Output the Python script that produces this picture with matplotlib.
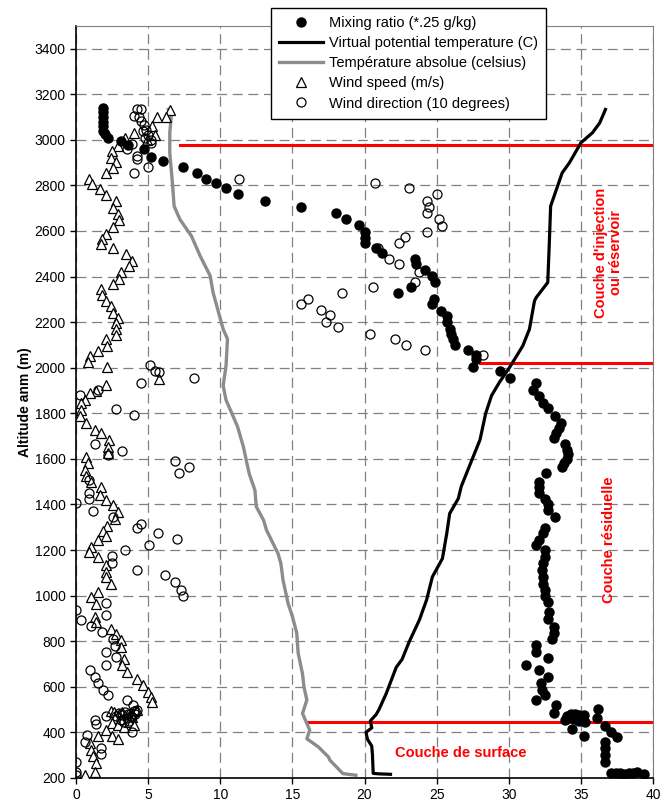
import matplotlib
matplotlib.use("Agg")
import matplotlib.pyplot as plt

plt.rcParams['font.family'] = ['Liberation Sans', 'DejaVu Sans']

# Mixing ratio (*.25 g/kg)
mix_x = [1.9, 1.9, 1.9, 1.9, 1.9, 1.9, 2.0, 2.2, 3.1, 3.6, 4.7, 5.2, 6.0, 7.4, 8.4, 9.0, 9.7,
         10.4, 11.2, 13.1, 15.6, 18.0, 18.7, 19.6, 20.0, 20.0, 20.0, 20.8, 21.2, 23.5, 23.6,
         24.2, 24.7, 24.9, 23.2, 22.3, 24.8, 24.7, 25.3, 25.7, 25.7, 25.9, 26.0, 26.1, 26.3,
         27.2, 27.7, 27.7, 27.5, 29.4, 30.1, 31.9, 31.7, 32.1, 32.4, 32.7, 33.2, 33.6, 33.5,
         33.3, 33.1, 33.9, 34.0, 34.1, 34.0, 33.8, 33.7, 32.6, 32.1, 32.1, 32.1, 32.5, 32.7,
         32.7, 33.2, 32.5, 32.4, 32.1, 31.9, 32.5, 32.5, 32.4, 32.3, 32.4, 32.4, 32.5, 32.5,
         32.7, 32.8, 32.7, 33.1, 33.1, 33.0, 31.9, 31.9, 32.7, 31.2, 32.1, 32.7, 32.2, 32.3,
         32.5, 31.9, 33.3, 33.1, 34.0, 34.3, 34.6, 34.9, 35.2, 34.5, 34.9, 35.3, 33.9,
         34.4, 35.2, 36.2, 36.1, 36.7, 37.1, 37.5, 36.7, 36.7, 36.7, 36.7, 37.1, 37.4, 37.7,
         38.0, 38.3, 38.6, 38.9, 39.4]
mix_y = [3140, 3120, 3100, 3080, 3060, 3040, 3025, 3010, 2994, 2975, 2958, 2924, 2908, 2880,
         2855, 2829, 2812, 2787, 2761, 2731, 2707, 2680, 2651, 2625, 2597, 2571, 2549, 2527,
         2505, 2479, 2457, 2428, 2403, 2377, 2352, 2327, 2301, 2279, 2250, 2228, 2199, 2169,
         2147, 2125, 2099, 2079, 2056, 2038, 2003, 1985, 1953, 1933, 1904, 1877, 1844, 1822,
         1788, 1759, 1734, 1712, 1690, 1664, 1639, 1621, 1598, 1580, 1563, 1536, 1500, 1478,
         1451, 1426, 1404, 1375, 1343, 1295, 1273, 1243, 1221, 1199, 1170, 1141, 1111, 1082,
         1053, 1023, 997, 972, 928, 899, 862, 837, 811, 782, 752, 726, 694, 672, 643, 616,
         584, 562, 540, 518, 484, 470, 480, 482, 478, 475, 460, 450, 445, 455, 413, 384, 502,
         462, 428, 400, 378, 359, 330, 301, 272, 223, 220, 222, 218, 222, 220, 224, 218]

# Virtual potential temperature (C)
vpt_x = [21.8, 21.0, 20.6, 20.55, 20.5, 20.2, 20.1, 20.5, 20.4, 20.8, 21.0, 21.5, 22.2, 22.6,
         23.1, 23.8, 24.3, 24.7, 25.4, 25.7, 25.9, 26.5, 26.7, 27.3, 28.0, 28.4, 28.8, 29.35,
         30.05, 30.97, 31.43, 31.78, 31.9, 32.7, 32.8, 32.9, 33.3, 33.7, 34.2, 35.0, 35.8,
         36.3, 36.7]
vpt_y = [216, 218, 220, 300, 340, 370, 400, 420, 450, 478, 500, 570, 686, 720, 798, 893, 981,
         1082, 1163, 1273, 1360, 1426, 1478, 1573, 1683, 1800, 1877, 1936, 2001, 2096, 2169,
         2293, 2308, 2374, 2534, 2709, 2782, 2855, 2899, 2987, 3031, 3074, 3133]

# Température absolue (celsius)
temp_x = [19.4, 18.5, 17.6, 17.5, 16.8, 16.0, 16.2, 15.7, 16.0, 15.8, 15.7, 15.4, 15.3, 15.0,
          14.7, 14.35, 14.2, 14.0, 13.2, 13.0, 12.5, 12.4, 12.0, 11.6, 11.2, 10.8, 10.4, 10.2,
          10.4, 10.5, 10.2, 9.5, 9.3, 8.6, 8.0, 7.2, 6.8, 6.7, 6.5, 6.5, 6.6, 6.4]
temp_y = [212, 219, 278, 292, 336, 372, 410, 483, 542, 600, 657, 747, 836, 908, 966, 1068,
          1141, 1185, 1288, 1331, 1390, 1463, 1536, 1653, 1741, 1800, 1858, 1921, 2009, 2126,
          2169, 2330, 2403, 2491, 2578, 2651, 2709, 2797, 2943, 3031, 3104, 3133]

# Wind speed (m/s)
ws_x = [6.5, 6.25, 5.6, 5.3, 5.45, 4.9, 4.0, 3.4, 2.9, 2.5, 2.4, 2.8, 2.05, 2.55, 0.9, 1.1,
        1.65, 2.05, 2.8, 2.55, 2.9, 2.95, 2.55, 2.05, 1.8, 1.75, 2.55, 3.45, 3.85, 3.7, 3.15,
        3.0, 2.55, 1.7, 1.8, 2.05, 2.45, 2.55, 2.9, 2.75, 2.8, 2.75, 2.05, 2.15, 1.5, 1.0, 0.8,
        2.15, 5.75, 2.1, 1.4, 0.95, 0.65, 0.35, 0.35, 0.25, 0.7, 1.35, 1.7, 2.3, 2.2, 2.2, 0.7,
        0.85, 0.65, 0.7, 1.05, 1.75, 1.65, 2.05, 2.55, 2.9, 2.7, 2.15, 1.9, 2.05, 1.5, 1.05,
        0.9, 1.5, 2.05, 2.05, 2.1, 2.4, 1.5, 1.05, 1.4, 1.35, 1.4, 2.4, 2.75, 3.15, 3.15, 3.3,
        3.2, 3.55, 4.25, 4.65, 5.0, 5.2, 5.3, 2.4, 2.6, 2.8, 3.0, 3.2, 3.4, 3.6, 3.8, 4.0, 4.2,
        2.7, 3.1, 3.5, 3.9, 2.5, 2.9, 3.3, 3.7, 4.05, 2.1, 2.5, 2.9, 1.5, 1.0, 1.05, 1.2, 1.4,
        1.35, 0.65]
ws_y = [3130, 3100, 3099, 3060, 3019, 3001, 3031, 3009, 2972, 2950, 2918, 2904, 2855, 2877,
        2826, 2804, 2782, 2756, 2731, 2702, 2673, 2647, 2618, 2588, 2564, 2542, 2523, 2498,
        2469, 2447, 2420, 2391, 2369, 2345, 2318, 2293, 2272, 2242, 2220, 2196, 2169, 2143,
        2125, 2096, 2074, 2050, 2026, 2001, 1950, 1924, 1899, 1887, 1858, 1844, 1815, 1788,
        1759, 1727, 1712, 1683, 1654, 1624, 1609, 1580, 1551, 1525, 1500, 1475, 1441, 1419,
        1397, 1365, 1338, 1305, 1283, 1261, 1243, 1214, 1192, 1170, 1133, 1104, 1082, 1053,
        1016, 994, 962, 906, 884, 855, 833, 806, 774, 723, 694, 664, 636, 607, 578, 556, 534,
        495, 488, 478, 482, 490, 472, 480, 486, 492, 498, 462, 458, 450, 468, 440, 432, 425,
        445, 434, 412, 382, 370, 382, 353, 324, 295, 266, 225, 215]

# Wind direction (10 degrees)
wd_x = [4.25, 4.5, 4.05, 4.35, 4.5, 4.7, 4.85, 4.65, 5.0, 4.8, 5.2, 5.2, 3.9, 3.5, 4.2, 4.2,
        5.0, 4.0, 11.3, 20.7, 23.1, 25.0, 24.3, 24.5, 24.3, 25.15, 25.4, 24.3, 22.8, 22.4,
        20.9, 21.7, 22.4, 23.8, 23.5, 20.6, 18.45, 15.6, 16.1, 17.0, 17.3, 17.6, 18.15, 20.4,
        22.1, 22.9, 24.2, 28.2, 5.15, 5.45, 5.75, 8.2, 4.5, 1.5, 0.25, 2.75, 4.0, 6.85, 7.85,
        7.15, 1.3, 2.2, 3.2, 0.9, 0.9, 0.9, 0.0, 1.15, 2.55, 4.5, 4.25, 5.7, 7.0, 5.05, 3.4,
        2.5, 2.5, 4.25, 6.15, 6.85, 7.25, 7.45, 2.05, 0.0, 0.35, 2.05, 1.05, 1.8, 2.55, 2.7,
        2.05, 2.8, 2.05, 1.0, 1.3, 1.5, 1.85, 2.2, 3.55, 3.95, 2.05, 2.8, 3.0, 3.2, 3.4, 3.6,
        3.8, 4.0, 4.2, 3.1, 3.5, 3.9, 3.3, 3.7, 4.1, 1.3, 1.4, 3.85, 0.75, 0.6, 1.75, 1.75,
        0.0, 0.0, 0.0]
wd_y = [3136, 3133, 3104, 3101, 3082, 3063, 3045, 3038, 3023, 3009, 3001, 2987, 2980, 2958,
        2929, 2914, 2880, 2855, 2829, 2812, 2787, 2761, 2731, 2707, 2680, 2654, 2622, 2596,
        2574, 2549, 2527, 2476, 2454, 2420, 2377, 2352, 2327, 2279, 2301, 2254, 2199, 2231,
        2177, 2150, 2128, 2099, 2079, 2056, 2010, 1987, 1980, 1953, 1933, 1904, 1880, 1818,
        1793, 1590, 1566, 1536, 1665, 1617, 1636, 1507, 1451, 1426, 1407, 1372, 1343, 1316,
        1295, 1273, 1247, 1221, 1199, 1173, 1141, 1114, 1089, 1060, 1023, 999, 969, 935, 894,
        914, 865, 840, 811, 777, 752, 730, 697, 672, 643, 617, 587, 562, 543, 518, 470, 472,
        485, 476, 490, 481, 470, 495, 500, 456, 461, 466, 446, 451, 482, 455, 438, 400, 390,
        357, 333, 307, 269, 225, 215]

# Red layer limits
layer_y = [2975, 2020, 445]
layer_xstart = [7.2, 28.0, 16.0]

fig = plt.figure(figsize=(6.61, 8.07), dpi=100)
ax = fig.add_axes([0.115, 0.036, 0.873, 0.932])

for y, x0 in zip(layer_y, layer_xstart):
    ax.plot([x0, 40], [y, y], color='#ff0000', lw=2.2, zorder=2)

h_temp, = ax.plot(temp_x, temp_y, color='#8c8c8c', lw=2.4, zorder=3,
                  label='Température absolue (celsius)')
h_vpt, = ax.plot(vpt_x, vpt_y, color='black', lw=2.3, zorder=3,
                 label='Virtual potential temperature (C)')
h_ws, = ax.plot(ws_x, ws_y, ls='none', marker='^', ms=7, mfc='white', mec='black', mew=0.9,
                zorder=4, label='Wind speed (m/s)')
h_wd, = ax.plot(wd_x, wd_y, ls='none', marker='o', ms=6.5, mfc='none', mec='black', mew=0.9,
                zorder=5, label='Wind direction (10 degrees)')
h_mix, = ax.plot(mix_x, mix_y, ls='none', marker='o', ms=6.5, color='black', zorder=6,
                 label='Mixing ratio (*.25 g/kg)')

ax.text(36.9, 2505, "Couche d'injection\nou réservoir", color='#ff0000', fontsize=10.5,
        fontweight='bold', rotation=90, ha='center', va='center', linespacing=1.1)
ax.text(36.95, 1243, 'Couche résiduelle', color='#ff0000', fontsize=10.5,
        fontweight='bold', rotation=90, ha='center', va='center')
ax.text(26.7, 308, 'Couche de surface', color='#ff0000', fontsize=10.5,
        fontweight='bold', ha='center', va='center')

ax.set_xlim(0, 40)
ax.set_ylim(200, 3500)
ax.set_xticks(range(0, 41, 5))
ax.set_yticks(range(200, 3401, 200))
ax.tick_params(labelsize=10, direction='out', length=4, width=1)
ax.grid(True, color='#808080', ls=(0, (8, 4.5)), lw=0.9)
ax.set_axisbelow(True)
ax.set_ylabel('Altitude anm (m)', fontsize=10, fontweight='bold', labelpad=2)
for s in ['top', 'right']:
    ax.spines[s].set_color('#808080')
for s in ['left', 'bottom']:
    ax.spines[s].set_color('black')
    ax.spines[s].set_linewidth(1.2)

leg = ax.legend(handles=[h_mix, h_vpt, h_temp, h_ws, h_wd], loc='upper left',
                bbox_to_anchor=(0.41, 0.99), bbox_transform=fig.transFigure,
                fontsize=10.5, fancybox=False, framealpha=1, edgecolor='black',
                labelspacing=0.42, handlelength=3.0, handletextpad=0.45,
                borderpad=0.55, borderaxespad=0)
leg.get_frame().set_linewidth(1)
leg.set_zorder(10)

fig.savefig('out.png', dpi=100)
